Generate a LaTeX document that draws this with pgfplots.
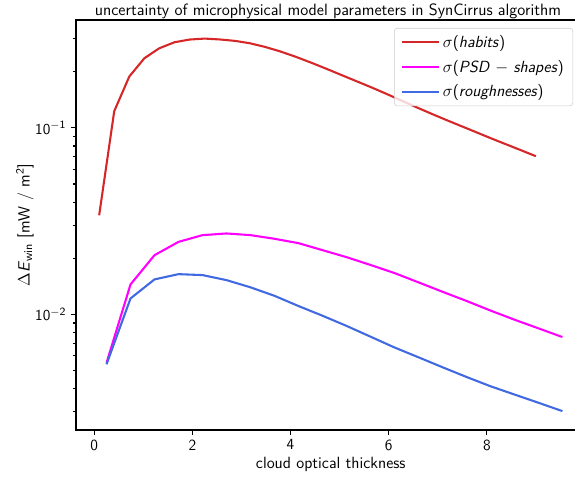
\documentclass[border=0pt]{standalone}
\usepackage{pgfplots}
\pgfplotsset{compat=1.18}
\usepackage{pgfplotstable}
\renewcommand{\familydefault}{\sfdefault}

\definecolor{habred}{HTML}{D62728}
\definecolor{psdmag}{HTML}{FF00FF}
\definecolor{roughblue}{HTML}{4169E1}

% uncertainty due to the choice of ice-crystal habit
\pgfplotstableread{
x      y
0.100  0.0340
0.407  0.1229
0.714  0.1886
1.021  0.2363
1.328  0.2675
1.634  0.2879
1.941  0.2977
2.248  0.3013
2.555  0.2981
2.862  0.2930
3.169  0.2845
3.476  0.2720
3.783  0.2575
4.090  0.2415
4.397  0.2250
4.703  0.2090
5.010  0.1935
5.317  0.1792
5.624  0.1660
5.931  0.1532
6.238  0.1410
6.545  0.1298
6.852  0.1197
7.159  0.1107
7.466  0.1026
7.772  0.0951
8.079  0.0881
8.386  0.0818
8.693  0.0760
9.000  0.0705
}\habits

% uncertainty due to the particle size distribution shapes
\pgfplotstableread{
x      y
0.250  0.00550
0.739  0.01448
1.228  0.02078
1.717  0.02449
2.206  0.02661
2.695  0.02717
3.184  0.02661
3.673  0.02544
4.162  0.02410
4.651  0.02211
5.140  0.02028
5.629  0.01842
6.118  0.01667
6.607  0.01486
7.096  0.01323
7.585  0.01181
8.074  0.01049
8.563  0.00937
9.052  0.00842
9.541  0.00756
}\psdshapes

% uncertainty due to the surface roughness of the crystals
\pgfplotstableread{
x      y
0.250  0.00540
0.739  0.01218
1.228  0.01541
1.717  0.01644
2.206  0.01625
2.695  0.01527
3.184  0.01397
3.673  0.01258
4.162  0.01109
4.651  0.00984
5.140  0.00868
5.629  0.00760
6.118  0.00665
6.607  0.00589
7.096  0.00521
7.585  0.00462
8.074  0.00412
8.563  0.00372
9.052  0.00336
9.541  0.00303
}\roughness

\begin{document}
\begin{tikzpicture}
\begin{axis}[
  at={(54.72pt,34.56pt)}, anchor=south west,
  scale only axis, width=366.8pt, height=295.2pt,
  ymode=log,
  xmin=-0.372, xmax=10.01, ymin=0.0024, ymax=0.379,
  xtick={0,2,4,6,8},
  ytick={0.01,0.1},
  yticklabels={$\mathsf{10^{-2}}$,$\mathsf{10^{-1}}$},
  minor ytick={0.003,0.004,0.005,0.006,0.007,0.008,0.009,
               0.02,0.03,0.04,0.05,0.06,0.07,0.08,0.09,0.2,0.3},
  /pgf/number format/assume math mode=true,
  tick pos=left, tick align=outside,
  major tick length=3.5pt, minor tick length=2pt,
  every tick/.style={black, line width=0.8pt},
  axis line style={line width=1.3pt},
  tick label style={font=\fontsize{11.2}{13}\selectfont},
  label style={font=\fontsize{11.7}{14}\selectfont},
  xlabel={cloud optical thickness},
  xlabel style={yshift=2pt},
  ylabel={$\Delta$\textit{E}$_{\mbox{\fontsize{8.5}{10}\selectfont win}}$ [mW / m$^{\mathsf{2}}$]},
  ylabel style={at={(axis description cs:-0.1,0.5)}, anchor=center},
  title={uncertainty of microphysical model parameters in SynCirrus algorithm},
  every axis title/.style={at={(axis description cs:0,1)}, anchor=base,
               xshift=181.4pt, yshift=3.2pt, inner sep=0pt,
               font=\fontsize{11.8}{14}\selectfont},
  legend style={at={(rel axis cs:1,1)}, anchor=north east,
                xshift=-8.9pt, yshift=-5.76pt,
                draw=black!20, rounded corners=2pt,
                fill=white, fill opacity=0.8, text opacity=1,
                font=\fontsize{11.6}{14}\selectfont,
                row sep=3.6pt, inner xsep=4.5pt, inner ysep=3pt},
  legend cell align=left,
  legend image code/.code={\draw[#1, line width=1.5pt] (0pt,0pt) -- (27pt,0pt);},
]
\addplot[habred, line width=1.5pt] table[x=x, y=y] {\habits};
\addlegendentry{$\sigma$(\textit{habits})}
\addplot[psdmag, line width=1.5pt] table[x=x, y=y] {\psdshapes};
\addlegendentry{$\sigma$(\textit{PSD} $-$ \textit{shapes})}
\addplot[roughblue, line width=1.5pt] table[x=x, y=y] {\roughness};
\addlegendentry{$\sigma$(\textit{roughnesses})}
\end{axis}
\pgfresetboundingbox
\path[use as bounding box] (0,0) rectangle (414pt,344.16pt);
\end{tikzpicture}
\end{document}
